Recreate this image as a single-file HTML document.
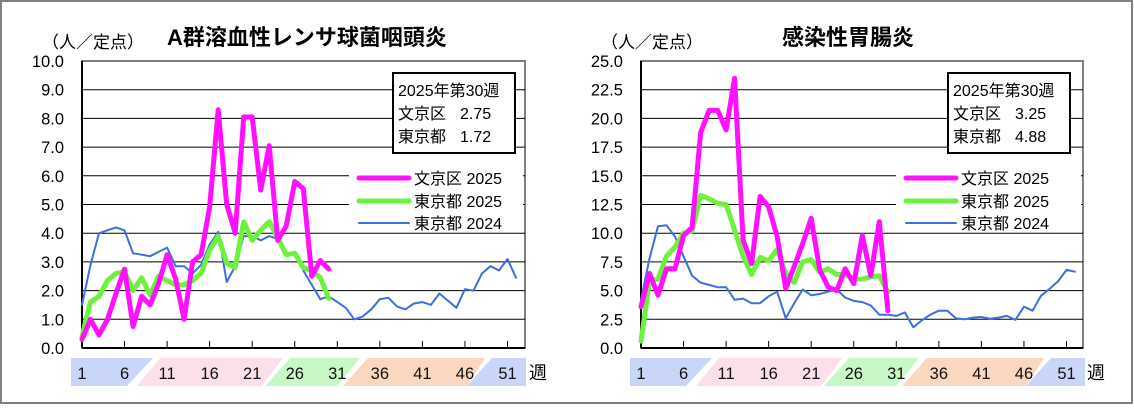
<!DOCTYPE html>
<html><head><meta charset="utf-8">
<style>
html,body{margin:0;padding:0;background:#fff;}
svg text{font-family:"Liberation Sans","Noto Sans CJK JP",sans-serif;}
</style></head>
<body>
<svg id="s" width="1134" height="406" xmlns="http://www.w3.org/2000/svg">
<rect x="1" y="1" width="1131" height="402" fill="#fff" stroke="#808080" stroke-width="2"/>
</svg>
<script>
// ---- Chart A: A群溶血性レンサ球菌咽頭炎 ----
const weeks=[1,6,11,16,21,26,31,36,41,46,51];
const aTicks=["0.0","1.0","2.0","3.0","4.0","5.0","6.0","7.0","8.0","9.0","10.0"];
const aBunkyo2025=[0.3,1.0,0.45,1.0,1.9,2.75,0.75,1.8,1.5,2.25,3.25,2.4,1.0,3.0,3.25,4.9,8.3,5.0,4.0,8.05,8.05,5.5,7.05,3.75,4.25,5.8,5.55,2.5,3.05,2.75];
const aTokyo2025=[0.4,1.6,1.8,2.35,2.6,2.65,2.0,2.45,1.85,2.5,2.35,2.2,2.2,2.35,2.6,3.4,3.9,2.95,2.8,4.4,3.75,4.1,4.4,3.85,3.25,3.3,2.8,2.7,2.45,1.72];
const aTokyo2024=[1.5,2.9,4.0,4.1,4.2,4.1,3.3,3.25,3.2,3.35,3.5,2.85,2.85,2.6,2.9,3.6,4.05,2.3,2.85,3.9,3.9,3.75,3.9,3.8,3.25,3.25,2.7,2.2,1.7,1.8,1.6,1.4,1.0,1.1,1.35,1.7,1.75,1.45,1.35,1.55,1.6,1.5,1.9,1.65,1.4,2.05,2.0,2.6,2.85,2.7,3.1,2.45];
// ---- Chart B: 感染性胃腸炎 ----
const bTicks=["0.0","2.5","5.0","7.5","10.0","12.5","15.0","17.5","20.0","22.5","25.0"];
const bBunkyo2025=[3.6,6.5,4.6,6.9,6.9,9.8,10.5,18.75,20.7,20.7,19.0,23.5,9.4,7.35,13.2,12.3,9.7,5.2,7.1,9.1,11.3,6.8,5.3,5.0,6.9,5.6,9.8,6.3,11.0,3.25];
const bTokyo2025=[0.6,5.8,6.0,8.0,8.8,10.0,10.2,13.3,13.0,12.6,12.5,10.3,8.0,6.4,7.9,7.6,8.6,6.5,5.7,7.5,7.7,6.6,6.9,6.4,6.4,6.0,6.0,6.2,6.3,4.88];
const bTokyo2024=[4.2,7.8,10.6,10.7,9.7,8.0,6.3,5.7,5.5,5.3,5.3,4.2,4.3,3.9,3.9,4.5,4.9,2.6,3.9,5.1,4.6,4.7,4.9,5.1,4.4,4.1,4.0,3.7,2.9,2.9,2.8,3.1,1.8,2.4,2.9,3.25,3.25,2.6,2.5,2.65,2.7,2.55,2.65,2.8,2.45,3.6,3.25,4.55,5.15,5.8,6.8,6.65];

const NS="http://www.w3.org/2000/svg";
const svg=document.getElementById('s');
function mk(tag,attrs,parent,txt){const e=document.createElementNS(NS,tag);for(const k in attrs)e.setAttribute(k,attrs[k]);if(txt!==undefined)e.textContent=txt;(parent||svg).appendChild(e);return e;}

function chart(o){
  const g=mk('g',{});
  
  
  const L=o.left,R=o.right,T=61,B=348,step=8.51,max=o.max;
  const x=w=>L+(w-1)*step;
  const y=v=>B-(v/max)*(B-T);
  const t=mk('text',{x:o.titleX,y:45,'font-size':22,'font-weight':'bold','text-anchor':'middle',fill:'#000'},g,o.title);
  
  
  const u=mk('text',{x:L-40,y:48,'font-size':17,fill:'#000'},g,'（人／定点）');
  
  
  mk('rect',{x:L,y:T,width:R-L,height:B-T,fill:'none',stroke:'#808080','stroke-width':2},g);
  o.ticks.forEach((lab,i)=>{
    const v=i*max/10,yy=y(v);
    if(i>0&&i<10){const gl=mk('line',{x1:L,x2:R,y1:yy,y2:yy,stroke:'#000','stroke-width':1},g);
      
      }
    const tl=mk('text',{x:L-18,y:yy+6,'font-size':16.5,'text-anchor':'end',fill:'#000'},g,lab);
    
    
  });
  mk('line',{x1:L,x2:L,y1:T,y2:B,stroke:'#000','stroke-width':2},g);
  mk('line',{x1:L,x2:R,y1:B,y2:B,stroke:'#000','stroke-width':2},g);
  weeks.forEach(w=>{mk('line',{x1:x(w),x2:x(w),y1:B,y2:B-7,stroke:'#000','stroke-width':1},g);});
  const bands=[[L-11,L-11,L+71,L+45,'#c9d6f7'],[L+55,L+78,L+201,L+180,'#fbdfea'],[L+183,L+208,L+278,L+255,'#c8f7c8'],[L+261,L+286,L+403,L+385,'#fad7bf'],[L+385,L+410,L+444,L+444,'#c9d6f7']];
  bands.forEach(b=>{const p=mk('polygon',{points:`${b[1]},358 ${b[2]},358 ${b[3]},386 ${b[0]},386`,fill:b[4]},g);
    
    });
  weeks.forEach(w=>{const tl=mk('text',{x:x(w),y:379,'font-size':16.5,'text-anchor':'middle',fill:'#111'},g,String(w));
    
    });
  const wk=mk('text',{x:R+4,y:379,'font-size':18,fill:'#000'},g,'週');
  
  
  mk('rect',{x:o.legX-10,y:162,width:R-o.legX+8,height:70,fill:'#fff'},g);
  const series=[[o.s24,'#3d6fe0',2,'series-tokyo-2024'],[o.s25t,'#6cf23c',5,'series-tokyo-2025'],[o.s25b,'#ff10ff',5,'series-bunkyo-2025']];
  series.forEach(s=>{
    const pts=s[0].map((v,i)=>x(i+1).toFixed(1)+','+y(v).toFixed(1)).join(' ');
    const pl=mk('polyline',{points:pts,fill:'none',stroke:s[1],'stroke-width':s[2],'stroke-linejoin':'round','stroke-linecap':'round'},g);
    
    
  });
  const leg=[['#ff10ff',5,'文京区 2025',178],['#6cf23c',5,'東京都 2025',201],['#3d6fe0',2,'東京都 2024',223]];
  leg.forEach(l=>{
    const lg=mk('g',{},g);
    
    
    mk('line',{x1:o.legX,x2:o.legX+50,y1:l[3],y2:l[3],stroke:l[0],'stroke-width':l[1],'stroke-linecap':'round'},lg);
    mk('text',{x:o.legX+55,y:l[3]+6,'font-size':16,fill:'#000'},lg,l[2]);
  });
  const ib=mk('g',{},g);
  
  
  mk('rect',{x:o.boxX,y:73,width:122,height:80,fill:'#fff',stroke:'#000','stroke-width':2},ib);
  mk('text',{x:o.boxX+5,y:96,'font-size':16,fill:'#000'},ib,'2025年第30週');
  mk('text',{x:o.boxX+5,y:119,'font-size':16,fill:'#000'},ib,'文京区');
  mk('text',{x:o.boxX+67,y:119,'font-size':16,fill:'#000'},ib,o.v1);
  mk('text',{x:o.boxX+5,y:142,'font-size':16,fill:'#000'},ib,'東京都');
  mk('text',{x:o.boxX+67,y:142,'font-size':16,fill:'#000'},ib,o.v2);
}
chart({name:'chart-strep',left:82,right:525,max:10,ticks:aTicks,title:'A群溶血性レンサ球菌咽頭炎',titleX:307,legX:359,boxX:393,v1:'2.75',v2:'1.72',s25b:aBunkyo2025,s25t:aTokyo2025,s24:aTokyo2024});
chart({name:'chart-gastro',left:641,right:1083,max:25,ticks:bTicks,title:'感染性胃腸炎',titleX:848,legX:906,boxX:948,v1:'3.25',v2:'4.88',s25b:bBunkyo2025,s25t:bTokyo2025,s24:bTokyo2024});
</script>
</body></html>
